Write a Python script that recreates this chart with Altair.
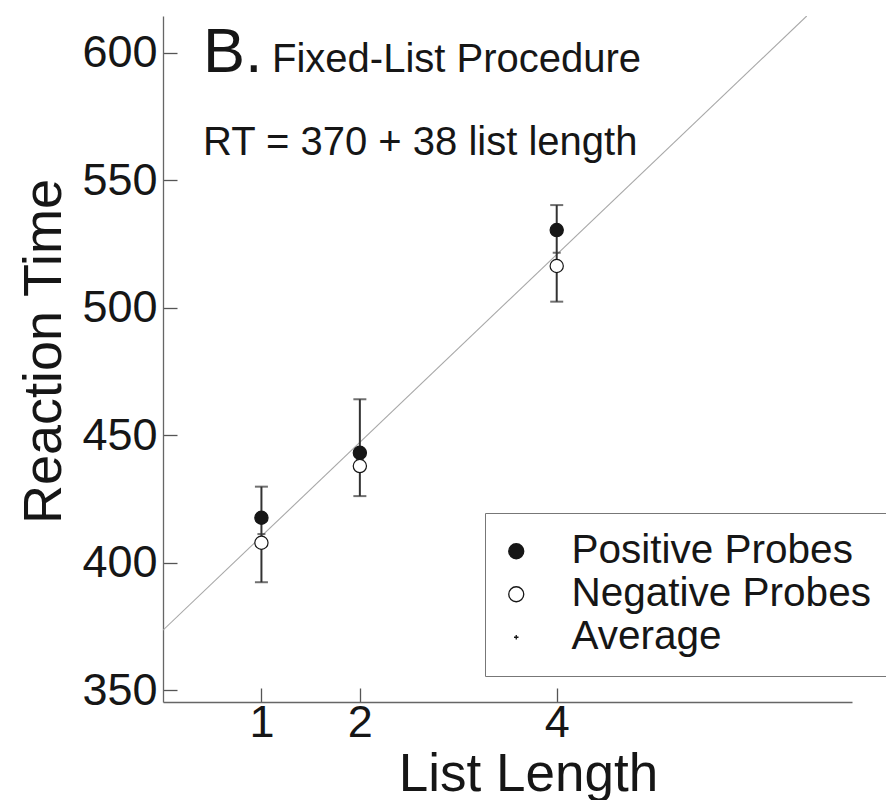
import altair as alt
import pandas as pd

# ---- data ----
list_length = [1, 2, 4]
positive_rt = [417.6, 443.1, 530.5]
negative_rt = [407.8, 437.9, 516.4]
average_rt = [411.2, 440.5, 521.6]
err_low = [392.3, 426.1, 502.4]
err_high = [429.8, 464.1, 540.3]
fit_x = [0, 6.54]
fit_y = [373.5, 614.5]
series_names = ["Positive Probes", "Negative Probes", "Average"]
x_ticks = [1, 2, 4]
y_ticks = [350, 400, 450, 500, 550, 600]
x_domain = [0, 7]
y_domain = [345.3, 614.5]
panel_label = "B."
panel_title = "Fixed-List Procedure"
equation = "RT = 370 + 38 list length"
x_title = "List Length"
y_title = "Reaction Time"

FONT = "Liberation Sans"
INK = "#161616"
PLUS_PATH = "M-0.3,0H0.3M0,-0.3V0.3"

points_df = pd.DataFrame({
    "len": list_length * 2,
    "rt": positive_rt + negative_rt,
    "series": [series_names[0]] * 3 + [series_names[1]] * 3,
})
err_df = pd.DataFrame({"len": list_length, "lo": err_low, "hi": err_high, "avg": average_rt})
fit_df = pd.DataFrame({"len": fit_x, "rt": fit_y})

xs = alt.Scale(domain=x_domain, nice=False, zero=False)
ys = alt.Scale(domain=y_domain, nice=False, zero=False)

x_axis = alt.Axis(
    values=x_ticks, title=x_title, grid=False,
    tickSize={"expr": "-14"}, tickColor="#555", tickWidth=1.3,
    domainColor="#666", domainWidth=1.3,
    labelFont=FONT, labelFontSize=45, labelColor=INK, labelPadding=12,
    labelOverlap=False, labelFlush=False,
    titleFont=FONT, titleFontSize=53, titleFontWeight="normal", titleColor=INK,
    titleX=365, titleY=88, titleBaseline="alphabetic", titleAlign="center",
)
y_axis = alt.Axis(
    values=y_ticks, title=y_title, grid=False,
    tickSize={"expr": "-14"}, tickColor="#555", tickWidth=1.3,
    domainColor="#666", domainWidth=1.3,
    labelFont=FONT, labelFontSize=45, labelColor=INK, labelPadding=20,
    labelOverlap=False, labelFlush=False,
    titleFont=FONT, titleFontSize=54, titleFontWeight="normal", titleColor=INK,
    titleX=-103, titleY=335, titleAngle=270, titleBaseline="alphabetic", titleAlign="center",
)


def X(field):
    return alt.X(f"{field}:Q", scale=xs, axis=x_axis)


def Y(field):
    return alt.Y(f"{field}:Q", scale=ys, axis=y_axis)


fit = alt.Chart(fit_df).mark_line(color="#a8a8a8", strokeWidth=1.1, clip=True).encode(
    x=X("len"), y=Y("rt"))

bars = alt.Chart(err_df).mark_rule(color="#333", strokeWidth=2).encode(
    x=X("len"), y=Y("lo"), y2="hi")
cap_lo = alt.Chart(err_df).mark_tick(color="#333", orient="horizontal", size=13, thickness=2).encode(
    x=X("len"), y=Y("lo"))
cap_hi = alt.Chart(err_df).mark_tick(color="#333", orient="horizontal", size=13, thickness=2).encode(
    x=X("len"), y=Y("hi"))
avg_tick = alt.Chart(err_df).mark_tick(color="#333", orient="horizontal", size=8, thickness=2).encode(
    x=X("len"), y=Y("avg"))

legend = alt.Legend(
    title=None, orient="none", legendX=322, legendY=497,
    strokeColor="#777", fillColor="white", padding=18, cornerRadius=0,
    labelFont=FONT, labelFontSize=40.5, labelColor=INK, labelOffset=35, labelLimit=500,
    rowPadding=2, symbolSize=225, symbolStrokeWidth=1.3, symbolStrokeColor=INK,
    symbolOffset={"expr": "-7"},
)
pts = alt.Chart(points_df).mark_point(filled=True, size=175, strokeWidth=1.2, opacity=1).encode(
    x=X("len"), y=Y("rt"),
    fill=alt.Fill("series:N", scale=alt.Scale(domain=series_names, range=[INK, "white", INK]), legend=legend),
    shape=alt.Shape("series:N", scale=alt.Scale(domain=series_names, range=["circle", "circle", PLUS_PATH]), legend=legend),
    stroke=alt.Stroke("series:N", scale=alt.Scale(domain=series_names, range=[INK, INK, INK]), legend=legend),
)

txt_df1 = pd.DataFrame({"t": [panel_label]})
txt_df2 = pd.DataFrame({"t": [panel_title]})
txt_df3 = pd.DataFrame({"t": [equation]})
lbl = alt.Chart(txt_df1).mark_text(font=FONT, fontSize=63, color=INK, align="left", baseline="alphabetic").encode(
    x=alt.value(40), y=alt.value(56), text="t:N")
ttl = alt.Chart(txt_df2).mark_text(font=FONT, fontSize=40, color=INK, align="left", baseline="alphabetic").encode(
    x=alt.value(109), y=alt.value(56), text="t:N")
eq = alt.Chart(txt_df3).mark_text(font=FONT, fontSize=40, color=INK, align="left", baseline="alphabetic").encode(
    x=alt.value(40), y=alt.value(139), text="t:N")

chart = alt.layer(fit, bars, cap_lo, cap_hi, avg_tick, pts, lbl, ttl, eq).properties(
    width=689, height=686,
    autosize=alt.AutoSizeParams(type="none"),
    padding={"left": 163, "top": 16, "right": 34, "bottom": 98},
    background="white",
).configure_view(strokeWidth=0)

chart.save("out.html", embed_options={"renderer": "svg", "actions": False})
